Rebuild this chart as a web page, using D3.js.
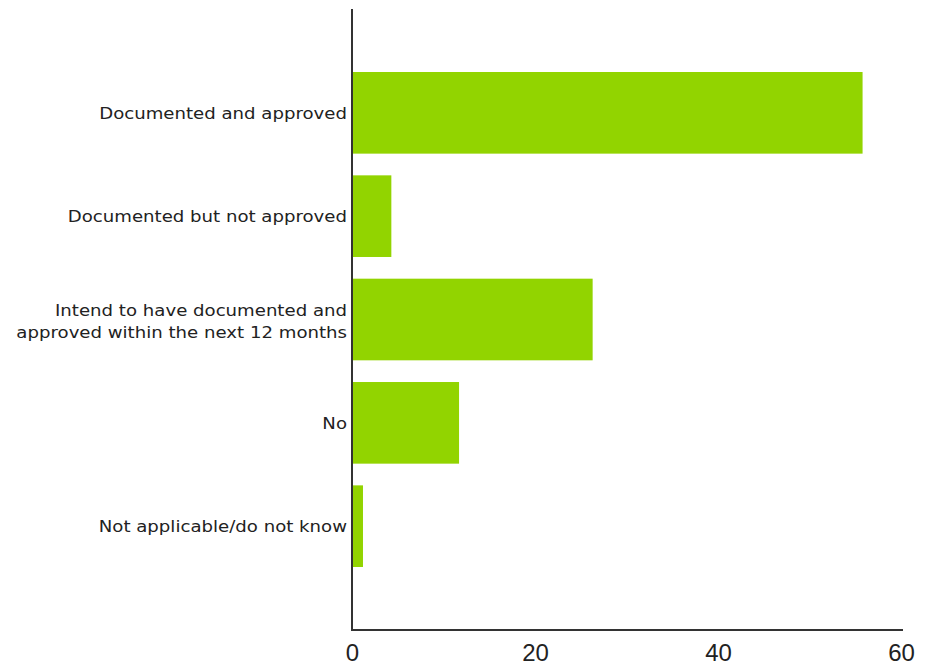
<!DOCTYPE html>
<html>
<head>
<meta charset="utf-8">
<script src="https://cdn.jsdelivr.net/npm/d3@7"></script>
<style>
  html, body { margin: 0; padding: 0; background: #fff; }
  svg { display: block; }
</style>
</head>
<body>
<svg id="chart" width="930" height="669"></svg>
<script>
// Survey responses (percent of respondents)
const categories = [
  "Documented and approved",
  "Documented but not approved",
  "Intend to have documented and|approved within the next 12 months",
  "No",
  "Not applicable/do not know"
];
const values = [55.8, 4.3, 26.3, 11.7, 1.2];
const xTicks = [0, 20, 40, 60];

const svg = d3.select("#chart");
const plotLeft = 352, plotRight = 901, plotTop = 10, plotBottom = 629;

const x = d3.scaleLinear().domain([0, 60]).range([plotLeft, plotRight]);
const y = d3.scaleBand().domain(categories).range([plotTop, plotBottom])
  .paddingInner(0.21).paddingOuter(0.6);

// bars
svg.append("g").selectAll("rect")
  .data(categories)
  .join("rect")
  .attr("x", x(0))
  .attr("y", d => y(d))
  .attr("width", (d, i) => x(values[i]) - x(0))
  .attr("height", y.bandwidth())
  .attr("fill", "#92d400");

// bottom axis
const xAxis = svg.append("g")
  .attr("transform", `translate(0,${plotBottom + 1})`)
  .call(d3.axisBottom(x).tickValues(xTicks).tickSize(0).tickSizeOuter(0).tickPadding(14));
xAxis.select(".domain").attr("stroke", "#333").attr("stroke-width", 2)
  .attr("d", `M${plotLeft - 1},0H${plotRight + 2}`);
xAxis.selectAll("text")
  .attr("font-family", "Liberation Sans, Arial, sans-serif")
  .attr("font-size", 24)
  .attr("fill", "#222")
  .attr("dy", "0.71em");

// left axis
const yAxis = svg.append("g")
  .attr("transform", `translate(${plotLeft},0)`)
  .call(d3.axisLeft(y).tickSize(0).tickSizeOuter(0).tickFormat(""));
yAxis.select(".domain").attr("stroke", "#333").attr("stroke-width", 2)
  .attr("d", `M0,${plotTop - 1}V${plotBottom + 2}`);

// category labels, wrapped on "|"
const labelG = svg.append("g");
const sx = 1.21;
categories.forEach(c => {
  const lines = c.split("|");
  const cy = y(c) + y.bandwidth() / 2 + 1;
  const lh = 22;
  lines.forEach((ln, j) => {
    const ty = cy + (j - (lines.length - 1) / 2) * lh + (lines.length > 1 ? 2 : 0);
    labelG.append("text")
      .attr("transform", `translate(${plotLeft - 5},${ty}) scale(${sx},1)`)
      .attr("text-anchor", "end")
      .attr("dominant-baseline", "central")
      .attr("font-family", "DejaVu Sans, sans-serif")
      .attr("font-size", 15)
      .attr("fill", "#222")
      .text(ln);
  });
});
</script>
</body>
</html>
